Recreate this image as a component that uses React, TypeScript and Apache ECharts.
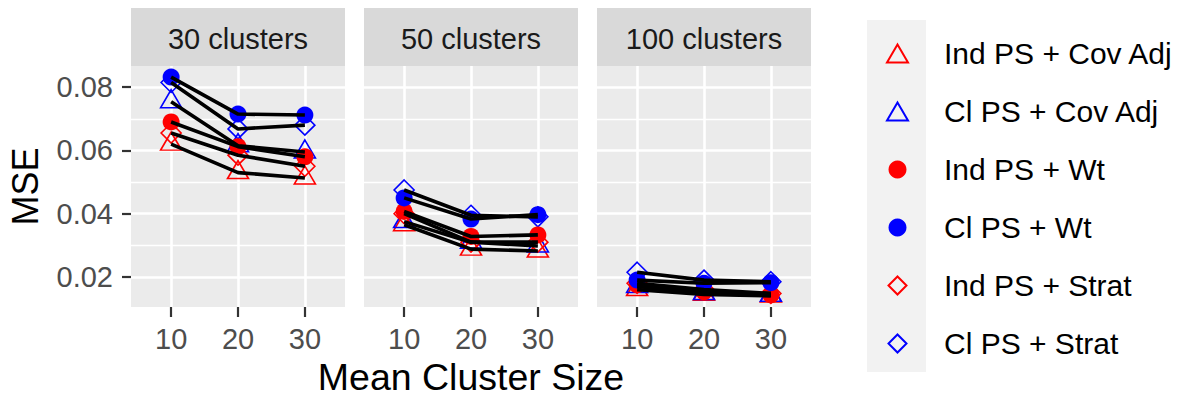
import React, { useEffect, useRef } from "react";
import * as echarts from "echarts";

const FONT = '"Liberation Sans", Arial, Helvetica, sans-serif';

// Facets and x categories
const clusterLabels = ["30 clusters", "50 clusters", "100 clusters"];
const clusterSizes = [10, 20, 30];
const yTicks = [0.02, 0.04, 0.06, 0.08];
const yMinorTicks = [0.03, 0.05, 0.07];
const yMin = 0.0105;
const yMax = 0.0867;
const xMin = 4;
const xMax = 36;

// MSE values: one row per facet (30, 50, 100 clusters), columns = mean cluster size 10, 20, 30
const indPsCovAdj = [
  [0.062, 0.053, 0.0513],
  [0.0365, 0.0288, 0.0282],
  [0.016, 0.0145, 0.014],
];
const clPsCovAdj = [
  [0.0754, 0.0615, 0.0595],
  [0.0375, 0.031, 0.0298],
  [0.017, 0.0148, 0.0142],
];
const indPsWt = [
  [0.069, 0.0612, 0.058],
  [0.0407, 0.0328, 0.0333],
  [0.0175, 0.0153, 0.0143],
];
const clPsWt = [
  [0.0832, 0.0715, 0.0712],
  [0.045, 0.0383, 0.0397],
  [0.019, 0.018, 0.0182],
];
const indPsStrat = [
  [0.0655, 0.0585, 0.055],
  [0.04, 0.031, 0.031],
  [0.018, 0.016, 0.0148],
];
const clPsStrat = [
  [0.0815, 0.0668, 0.068],
  [0.0475, 0.0395, 0.039],
  [0.0215, 0.019, 0.0185],
];

const methodNames = [
  "Ind PS + Cov Adj",
  "Cl PS + Cov Adj",
  "Ind PS + Wt",
  "Cl PS + Wt",
  "Ind PS + Strat",
  "Cl PS + Strat",
];

const RED = "#FF0000";
const BLUE = "#0000FF";
const DIAMOND_PATH = "path://M10,0L20,10L10,20L0,10Z";

const methods = [
  { name: methodNames[0], values: indPsCovAdj, shape: "triangle", color: RED, filled: false },
  { name: methodNames[1], values: clPsCovAdj, shape: "triangle", color: BLUE, filled: false },
  { name: methodNames[2], values: indPsWt, shape: "circle", color: RED, filled: true },
  { name: methodNames[3], values: clPsWt, shape: "circle", color: BLUE, filled: true },
  { name: methodNames[4], values: indPsStrat, shape: "diamond", color: RED, filled: false },
  { name: methodNames[5], values: clPsStrat, shape: "diamond", color: BLUE, filled: false },
];

// draw order: triangles, diamonds, then circles on top
const drawOrder = [0, 1, 4, 5, 2, 3];

const PANEL_LEFTS = [131, 364, 597];
const PANEL_W = 214;
const PANEL_TOP = 66;
const PANEL_H = 241;

function symbolProps(shape: string) {
  if (shape === "triangle") return { symbol: "triangle", symbolSize: [21, 18], symbolOffset: [0, -3] };
  if (shape === "diamond") return { symbol: "diamond", symbolSize: [20, 20], symbolOffset: [0, 0] };
  return { symbol: "circle", symbolSize: 17, symbolOffset: [0, 0] };
}

export default function App() {
  const ref = useRef<HTMLDivElement>(null);

  useEffect(() => {
    if (!ref.current) return;
    const chart = echarts.init(ref.current, undefined, { renderer: "svg" });

    const grids = PANEL_LEFTS.map((left) => ({
      left,
      top: PANEL_TOP,
      width: PANEL_W,
      height: PANEL_H,
      show: true,
      backgroundColor: "#EBEBEB",
      borderWidth: 0,
      containLabel: false,
      outerBoundsMode: "none",
    }));

    const xAxes = PANEL_LEFTS.map((_, i) => ({
      type: "value",
      gridIndex: i,
      min: xMin,
      max: xMax,
      axisLine: { show: false },
      axisTick: {
        show: true,
        customValues: clusterSizes,
        length: 10,
        lineStyle: { color: "#333333", width: 2.2 },
      },
      axisLabel: {
        customValues: clusterSizes,
        color: "#4D4D4D",
        fontSize: 29,
        fontFamily: FONT,
        margin: 17,
      },
      splitLine: { show: true, lineStyle: { color: "#FFFFFF", width: 2.6 } },
      name: i === 1 ? "Mean Cluster Size" : "",
      nameLocation: "middle",
      nameGap: 51,
      nameTextStyle: { fontSize: 37.5, color: "#000000", fontFamily: FONT },
    }));

    const yAxes: any[] = [];
    PANEL_LEFTS.forEach((_, i) => {
      yAxes.push({
        type: "value",
        gridIndex: i,
        min: yMin,
        max: yMax,
        axisLine: { show: false },
        axisTick: {
          show: i === 0,
          customValues: yTicks,
          length: 9,
          lineStyle: { color: "#333333", width: 2.2 },
        },
        axisLabel: {
          show: i === 0,
          customValues: yTicks,
          formatter: (v: number) => v.toFixed(2),
          color: "#4D4D4D",
          fontSize: 29,
          fontFamily: FONT,
          margin: 18,
        },
        splitLine: { show: true, lineStyle: { color: "#FFFFFF", width: 2.6 } },
        name: i === 0 ? "MSE" : "",
        nameLocation: "middle",
        nameRotate: 90,
        nameGap: 88,
        nameTextStyle: { fontSize: 36, color: "#000000", fontFamily: FONT },
      });
      yAxes.push({
        type: "value",
        gridIndex: i,
        min: yMin,
        max: yMax,
        axisLine: { show: false },
        axisTick: { show: false, customValues: yMinorTicks },
        axisLabel: { show: false, customValues: yMinorTicks },
        splitLine: { show: true, lineStyle: { color: "#FFFFFF", width: 1.3 } },
      });
    });

    const series: any[] = [];
    PANEL_LEFTS.forEach((_, p) => {
      drawOrder.forEach((mi) => {
        const m = methods[mi];
        const data = clusterSizes.map((s, k) => [s, m.values[p][k]]);
        series.push({
          type: "scatter",
          name: m.name,
          xAxisIndex: p,
          yAxisIndex: 2 * p,
          data,
          ...symbolProps(m.shape),
          itemStyle: m.filled
            ? { color: m.color, borderWidth: 0, opacity: 1 }
            : { color: "rgba(0,0,0,0)", borderColor: m.color, borderWidth: 1.6, opacity: 1 },
          z: 2,
          silent: true,
          emphasis: { disabled: true },
        });
      });
      methods.forEach((m) => {
        const data = clusterSizes.map((s, k) => [s, m.values[p][k]]);
        series.push({
          type: "line",
          xAxisIndex: p,
          yAxisIndex: 2 * p,
          data,
          symbol: "none",
          color: "#000000",
          lineStyle: { color: "#000000", width: 3.6, opacity: 1 },
          z: 3,
          silent: true,
          emphasis: { disabled: true },
        });
      });
    });

    const graphic: any[] = [
      {
        type: "rect",
        shape: { x: 867, y: 20, width: 59, height: 352 },
        style: { fill: "#F2F2F2" },
        z: 0,
      },
    ];
    PANEL_LEFTS.forEach((left, i) => {
      graphic.push({
        type: "rect",
        shape: { x: left, y: 8, width: PANEL_W, height: 58 },
        style: { fill: "#D9D9D9" },
        z: 0,
      });
      graphic.push({
        type: "text",
        x: left + PANEL_W / 2,
        y: 39,
        style: {
          text: clusterLabels[i],
          fill: "#1A1A1A",
          fontSize: 29,
          fontFamily: FONT,
          align: "center",
          verticalAlign: "middle",
        },
        z: 1,
      });
    });

    chart.setOption({
      animation: false,
      backgroundColor: "#FFFFFF",
      textStyle: { fontFamily: FONT },
      grid: grids,
      xAxis: xAxes,
      yAxis: yAxes,
      series,
      graphic,
      legend: {
        data: methods.map((m) =>
          m.shape === "diamond" ? { name: m.name, icon: DIAMOND_PATH } : { name: m.name }
        ),
        orient: "vertical",
        left: 886,
        top: 38.5,
        padding: 0,
        itemWidth: 21,
        itemHeight: 18,
        itemGap: 28,
        selectedMode: false,
        itemStyle: { opacity: 1 },
        textStyle: { fontSize: 30, color: "#000000", fontFamily: FONT, padding: [0, 0, 0, 31] },
      },
    });

    return () => chart.dispose();
  }, []);

  return (
    <div
      ref={ref}
      style={{ position: "absolute", left: 0, top: 0, width: 1181, height: 398 }}
    />
  );
}
